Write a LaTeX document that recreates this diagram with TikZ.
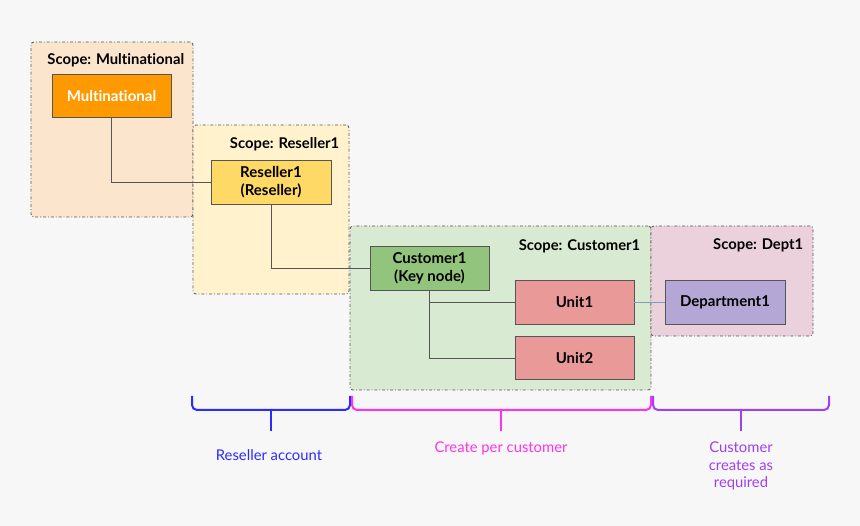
\documentclass[tikz,border=0pt]{standalone}
\usepackage{fontspec}
\setmainfont[Ligatures=NoCommon]{Lato}
\usetikzlibrary{positioning}
\definecolor{bgc}{HTML}{F7F7F7}
\definecolor{framec}{HTML}{555555}
\definecolor{scM}{HTML}{FCE5CD}
\definecolor{scR}{HTML}{FFF2CC}
\definecolor{scC}{HTML}{D9EAD3}
\definecolor{scD}{HTML}{EAD1DC}
\definecolor{nM}{HTML}{FF9900}
\definecolor{nR}{HTML}{FFD966}
\definecolor{nC}{HTML}{93C47D}
\definecolor{nU}{HTML}{EA9999}
\definecolor{nD}{HTML}{B4A7D6}
\definecolor{linkc}{HTML}{555555}
\definecolor{deptlink}{HTML}{7F9FB8}
\definecolor{bblue}{HTML}{2B2BFF}
\definecolor{bmag}{HTML}{FF33EE}
\definecolor{bpur}{HTML}{A040F0}
\tikzstyle{scopebox} = [rectangle, rounded corners=3pt,
inner sep=0pt,
draw=framec, line width=0.8pt, dash dot]
\tikzstyle{scopelabel} = [anchor=east, inner sep=0pt,
font=\fontsize{14.8}{17}\selectfont\bfseries]
\tikzstyle{unitbox} = [rectangle,
minimum width=119pt,
minimum height=44pt,
inner sep=0pt,
text centered, align=center,
draw=framec, line width=0.9pt,
font=\fontsize{15}{18}\selectfont\bfseries]
\tikzstyle{link} = [draw=linkc, line width=0.9pt]
\tikzstyle{grpbrace} = [line width=2pt, rounded corners=5pt]
\tikzstyle{grplabel} = [align=center, inner sep=0pt,
font=\fontsize{14.8}{17.5}\selectfont]

\begin{document}
\begin{tikzpicture}[x=1pt, y=-1pt]
\fill[bgc] (0,0) rectangle (860,526);
\useasboundingbox (0,0) rectangle (860,526);
% scopes
\node (scopeM) [scopebox, fill=scM, minimum width=162pt, minimum height=175pt] at (112,129.5) {};
\node (scopeR) [scopebox, fill=scR, minimum width=156pt, minimum height=169pt] at (271,209.5) {};
\node (scopeC) [scopebox, fill=scC, minimum width=301pt, minimum height=164pt] at (500.5,308) {};
\node (scopeD) [scopebox, fill=scD, minimum width=162pt, minimum height=110pt] at (732,281) {};
\node [scopelabel] at ([xshift=-9pt,yshift=-19pt]scopeM.north east) {Scope: Multinational};
\node [scopelabel] at ([xshift=-10pt,yshift=-20pt]scopeR.north east) {Scope: Reseller1};
\node [scopelabel] at ([xshift=-11pt,yshift=-21pt]scopeC.north east) {Scope: Customer1};
\node [scopelabel] at ([xshift=-10pt,yshift=-20pt]scopeD.north east) {Scope: Dept1};
% nodes
\node (mult) [unitbox, fill=nM, text=white, minimum height=43pt] at (111.5,95.5) {Multinational};
\node (res1) [unitbox, fill=nR, minimum width=120pt] at (271,182) {Reseller1\\(Reseller)};
\node (cust1) [unitbox, fill=nC] at (429.5,268) {Customer1\\(Key node)};
\node (unit1) [unitbox, fill=nU] at (574.5,302) {Unit1};
\node (unit2) [unitbox, fill=nU, minimum height=43pt, below=12pt of unit1] {Unit2};
\node (dept1) [unitbox, fill=nD, minimum width=120pt] at (725,302) {Department1};
% links
\draw[link] (mult.south) |- (res1.west);
\draw[link] (res1.south) |- (cust1.west);
\draw[link] (cust1.south) |- (unit1.west);
\draw[link] (cust1.south) |- (unit2.west);
\draw[link, draw=deptlink] (unit1.east) -- (dept1.west);
% braces
\draw[grpbrace, bblue] (192,396) -- (192,410) -- (350,410) -- (350,396);
\draw[line width=2pt, bblue] (271,410) -- (271,431);
\draw[grpbrace, bmag] (352,396) -- (352,410) -- (651,410) -- (651,396);
\draw[line width=2pt, bmag] (501,410) -- (501,431);
\draw[grpbrace, bpur] (653,396) -- (653,410) -- (829,410) -- (829,396);
\draw[line width=2pt, bpur] (741,410) -- (741,431);
\node (lblR) [grplabel, text=bblue] at (269,455) {Reseller account};
\node (lblC) [grplabel, text=bmag] at (501,448) {Create per customer};
\node (lblD) [grplabel, text=bpur] at (741,466) {Customer\\creates as\\required};
\end{tikzpicture}
\end{document}
